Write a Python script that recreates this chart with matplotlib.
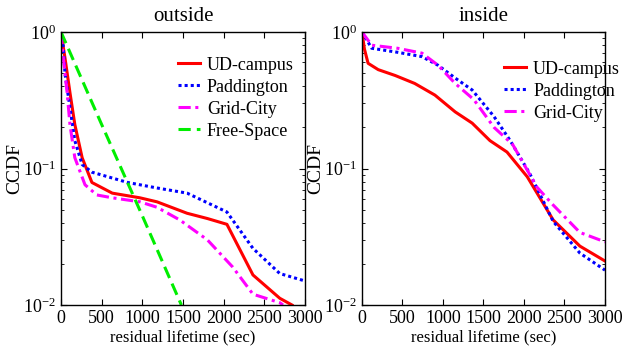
import matplotlib
matplotlib.use('Agg')
import matplotlib.pyplot as plt
from matplotlib.ticker import LogLocator

plt.rcParams['font.family'] = ['Liberation Serif', 'DejaVu Serif']
plt.rcParams['mathtext.fontset'] = 'custom'
plt.rcParams['mathtext.rm'] = 'Liberation Serif'
plt.rcParams['mathtext.it'] = 'Liberation Serif'

FS = 13

labels = ['UD-campus', 'Paddington', 'Grid-City', 'Free-Space']
xticks = [0, 500, 1000, 1500, 2000, 2500, 3000]

# outside
x_ud_out = [0, 50, 110, 170, 260, 380, 630, 970, 1180, 1550, 1800, 2040, 2360, 2690, 2840]
y_ud_out = [1.0, 0.64, 0.36, 0.21, 0.12, 0.079, 0.066, 0.061, 0.057, 0.047, 0.043, 0.039, 0.0166, 0.0112, 0.01]
x_pad_out = [0, 25, 50, 110, 170, 260, 380, 820, 1180, 1550, 2040, 2360, 2690, 3000]
y_pad_out = [1.0, 0.8, 0.49, 0.28, 0.16, 0.107, 0.094, 0.079, 0.072, 0.066, 0.048, 0.026, 0.017, 0.015]
x_grid_out = [0, 12, 75, 110, 170, 295, 440, 630, 970, 1180, 1460, 1800, 2110, 2360, 2690, 2730]
y_grid_out = [1.0, 0.8, 0.36, 0.21, 0.12, 0.076, 0.064, 0.061, 0.057, 0.052, 0.042, 0.030, 0.019, 0.012, 0.0104, 0.01]
x_fs_out = [0, 500, 1000, 1480]
y_fs_out = [1.0, 0.21, 0.045, 0.01]

# inside
x_ud_in = [0, 30, 75, 200, 410, 650, 900, 1150, 1360, 1580, 1790, 2040, 2360, 2690, 3000]
y_ud_in = [1.0, 0.75, 0.59, 0.53, 0.48, 0.42, 0.345, 0.26, 0.215, 0.16, 0.132, 0.087, 0.042, 0.027, 0.021]
x_pad_in = [0, 120, 440, 740, 940, 1150, 1360, 1630, 1830, 2070, 2360, 2690, 3000]
y_pad_in = [1.0, 0.76, 0.71, 0.66, 0.57, 0.46, 0.376, 0.24, 0.16, 0.092, 0.041, 0.024, 0.018]
x_grid_in = [0, 120, 440, 740, 940, 1150, 1380, 1630, 1860, 2160, 2360, 2690, 3000]
y_grid_in = [1.0, 0.8, 0.76, 0.70, 0.57, 0.42, 0.32, 0.2, 0.15, 0.073, 0.054, 0.034, 0.029]

fig = plt.figure(figsize=(6.37, 3.6), dpi=100)
ax1 = fig.add_axes([61/637, 1-305/360, 244/637, 273/360])
ax2 = fig.add_axes([362/637, 1-305/360, 243/637, 273/360])

ax1.plot(x_ud_out, y_ud_out, color='#ff0000', lw=2.2, label=labels[0])
ax1.plot(x_pad_out, y_pad_out, color='#0000ff', lw=2.2, ls=(0, (1, 1)), label=labels[1])
ax1.plot(x_grid_out, y_grid_out, color='#ff00ff', lw=2.2, ls=(0, (4, 1.5, 1, 1.5)), label=labels[2])
ax1.plot(x_fs_out, y_fs_out, color='#00ee00', lw=2.2, ls=(0, (4, 2)), label=labels[3])

ax2.plot(x_ud_in, y_ud_in, color='#ff0000', lw=2.2, label=labels[0])
ax2.plot(x_pad_in, y_pad_in, color='#0000ff', lw=2.2, ls=(0, (1, 1)), label=labels[1])
ax2.plot(x_grid_in, y_grid_in, color='#ff00ff', lw=2.2, ls=(0, (4, 1.5, 1, 1.5)), label=labels[2])

for ax, title in [(ax1, 'outside'), (ax2, 'inside')]:
    ax.set_yscale('log')
    ax.set_xlim(0, 3000)
    ax.set_ylim(0.01, 1)
    ax.set_xticks(xticks)
    ax.yaxis.set_minor_locator(LogLocator(base=10, subs=range(2, 10)))
    ax.tick_params(which='both', direction='in', top=True, right=True, labelsize=FS)
    ax.tick_params(which='major', length=4)
    ax.tick_params(which='minor', length=2)
    ax.set_title(title, fontsize=FS+2, pad=8)
    ax.set_xlabel('residual lifetime (sec)', fontsize=FS-1, labelpad=2)
    ax.set_ylabel('CCDF', fontsize=FS+1, labelpad=0)
    for s in ax.spines.values():
        s.set_linewidth(1.0)

ax1.legend(loc='upper left', bbox_to_anchor=(0.48, 0.91), frameon=False, fontsize=FS,
           handlelength=1.2, handletextpad=0.4, labelspacing=0.28, borderpad=0, borderaxespad=0)
ax2.legend(loc='upper left', bbox_to_anchor=(0.585, 0.895), frameon=False, fontsize=FS,
           handlelength=1.2, handletextpad=0.4, labelspacing=0.28, borderpad=0, borderaxespad=0)

fig.savefig('out.png', dpi=100)
